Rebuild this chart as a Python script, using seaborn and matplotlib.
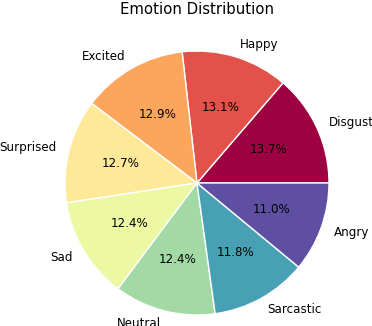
import numpy as np
import matplotlib
matplotlib.use('Agg')
import matplotlib.pyplot as plt
import seaborn as sns

# 数据
emotions = ['Disgust', 'Happy', 'Excited', 'Surprised', 'Sad', 'Neutral', 'Sarcastic', 'Angry']
shares = [13.7, 13.1, 12.9, 12.7, 12.4, 12.4, 11.8, 11.0]

sns.set_style('white')
colors = sns.color_palette(plt.cm.Spectral(np.linspace(0, 1, len(emotions))))

fig = plt.figure(figsize=(3.72, 3.26), dpi=100)
ax = fig.add_axes([32 / 372, -22 / 326, 330 / 372, 330 / 326])
ax.pie(shares, labels=emotions, colors=colors, autopct='%1.1f%%',
       startangle=0, textprops={'fontsize': 8.6, 'color': 'black'})
ax.set_aspect('equal')
fig.text(197 / 372, 1 - 1.5 / 326, 'Emotion Distribution', ha='center', va='top',
         fontsize=10.7, color='black')

plt.savefig('out.png', dpi=100)
plt.close()
